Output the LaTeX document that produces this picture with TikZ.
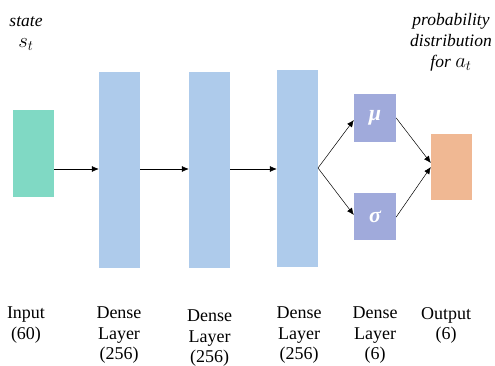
\documentclass[tikz,border=0pt]{standalone}
\usepackage{fontspec}
\usepackage{amsmath}
\setmainfont{Liberation Serif}
\usetikzlibrary{arrows.meta}
\definecolor{cin}{HTML}{80D9C4}
\definecolor{cdense}{HTML}{AECBEB}
\definecolor{cmu}{HTML}{A0AADB}
\definecolor{cout}{HTML}{F0B893}
\begin{document}
\begin{tikzpicture}[x=1pt,y=-1pt,
  lay/.style={draw=none,inner sep=0pt,minimum width=41pt},
  conn/.style={-{Latex[length=7pt,width=6pt]},line width=0.5pt},
  lbl/.style={align=center,font=\fontsize{18}{20.5}\selectfont,inner sep=0pt,anchor=north},
  itl/.style={align=center,font=\fontsize{17.5}{21}\selectfont\itshape,inner sep=0pt,anchor=north},
  sym/.style={text=white,font=\fontsize{22}{22}\selectfont\bfseries\itshape}]
\useasboundingbox (0,0) rectangle (495,366);
\node[lay,fill=cin,minimum height=87pt] (in) at (33.5,153.5) {};
\node[lay,fill=cdense,minimum height=196pt] (d1) at (119.5,170) {};
\node[lay,fill=cdense,minimum height=196pt] (d2) at (209.5,170) {};
\node[lay,fill=cdense,minimum height=197pt] (d3) at (297.5,168.5) {};
\node[lay,fill=cmu,minimum width=42pt,minimum height=48pt,sym] (mu) at (375,118) {μ};
\node[lay,fill=cmu,minimum width=42pt,minimum height=47pt,sym] (sg) at (375,216.5) {σ};
\node[lay,fill=cout,minimum height=66pt] (out) at (451.5,167) {};
\coordinate (split) at (318,168);
\draw[conn] (in.east |- 0,169) -- (d1.west |- 0,169);
\draw[conn] (d1.east |- 0,169) -- (d2.west |- 0,169);
\draw[conn] (d2.east |- 0,169) -- (d3.west |- 0,169);
\draw[conn] (split) -- (mu.west |- 0,120);
\draw[conn] (split) -- (sg.west |- 0,215);
\draw[conn] (mu.east |- 0,118) -- (out.west |- 0,163);
\draw[conn] (sg.east |- 0,217) -- (out.west |- 0,167);
\node[itl] (st) at (26,16) {state\\\fontsize{20}{21}\selectfont$s_t$};
\node[itl] (pd) at (451,13) {probability\\distribution\\for \fontsize{20}{21}\selectfont$a_t$};
\node[lbl] (l1) at (26,307) {Input\\(60)};
\node[lbl] (l2) at (119,307) {Dense\\Layer\\(256)};
\node[lbl] (l3) at (209.5,310) {Dense\\Layer\\(256)};
\node[lbl] (l4) at (299,307) {Dense\\Layer\\(256)};
\node[lbl] (l5) at (375,307) {Dense\\Layer\\(6)};
\node[lbl] (l6) at (446,307) {Output\\(6)};
\end{tikzpicture}
\end{document}
